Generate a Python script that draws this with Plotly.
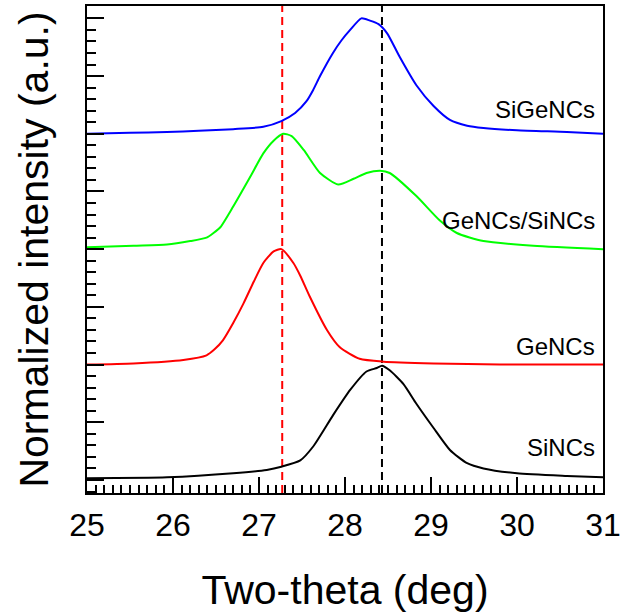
import plotly.graph_objects as go

# Two-theta positions (deg) and normalized intensities for each sample
sinc_x = [25.0, 25.93, 26.70, 27.09, 27.26, 27.48, 27.63, 27.86, 28.06, 28.25, 28.37,
          28.43, 28.52, 28.68, 28.83, 29.03, 29.22, 29.42, 29.61, 30.0, 30.58, 31.0]
sinc_y = [0.015, 0.023, 0.058, 0.087, 0.115, 0.17, 0.29, 0.56, 0.78, 0.94, 0.97,
          0.99, 0.95, 0.83, 0.66, 0.45, 0.26, 0.145, 0.10, 0.058, 0.035, 0.023]

genc_x = [25.0, 25.54, 26.12, 26.39, 26.48, 26.58, 26.70, 26.82, 26.94, 27.05, 27.17,
          27.26, 27.40, 27.48, 27.59, 27.79, 27.94, 28.17, 28.45, 29.03, 29.80, 31.0]
genc_y = [0.0, 0.01, 0.04, 0.08, 0.13, 0.21, 0.36, 0.53, 0.72, 0.88, 0.98,
          1.0, 0.88, 0.77, 0.59, 0.30, 0.15, 0.05, 0.025, 0.01, 0.0, 0.0]

mix_x = [25.0, 25.54, 25.93, 26.2, 26.39, 26.47, 26.55, 26.70, 26.90, 27.05, 27.17,
         27.28, 27.38, 27.52, 27.71, 27.92, 28.10, 28.25, 28.41, 28.52, 28.83, 29.10,
         29.30, 29.61, 30.19, 31.0]
mix_y = [0.016, 0.03, 0.04, 0.07, 0.10, 0.14, 0.19, 0.37, 0.63, 0.83, 0.94,
         1.0, 0.98, 0.86, 0.66, 0.56, 0.61, 0.66, 0.68, 0.66, 0.46, 0.25,
         0.14, 0.07, 0.03, 0.0]

sige_x = [25.0, 25.5, 25.93, 26.3, 26.7, 27.05, 27.26, 27.42, 27.55, 27.63, 27.71,
          27.86, 27.96, 28.06, 28.19, 28.29, 28.39, 28.49, 28.64, 28.83, 29.03, 29.22,
          29.42, 29.61, 30.0, 30.58, 31.0]
sige_y = [0.0, 0.008, 0.015, 0.025, 0.04, 0.06, 0.11, 0.18, 0.28, 0.38, 0.50,
          0.70, 0.81, 0.90, 1.0, 0.98, 0.95, 0.87, 0.66, 0.42, 0.24, 0.12,
          0.07, 0.05, 0.03, 0.015, 0.0]

sample_names = ["SiNCs", "GeNCs", "GeNCs/SiNCs", "SiGeNCs"]
sample_offsets = [0, 1, 2, 3]
sample_colors = ["#000000", "#ff0000", "#00ff00", "#0000ff"]
label_heights = [0.28, 1.16, 2.25, 3.21]

# Reference peak positions: Ge(111) and Si(111)
ref_peaks = [27.27, 28.43]
ref_colors = ["#ff0000", "#000000"]

series_x = [sinc_x, genc_x, mix_x, sige_x]
series_y = [sinc_y, genc_y, mix_y, sige_y]

FONT = "Liberation Sans, Arial, sans-serif"

fig = go.Figure()

for name, xs, ys, off, col in zip(sample_names, series_x, series_y, sample_offsets, sample_colors):
    fig.add_trace(go.Scatter(
        x=xs, y=[v + off for v in ys], mode="lines", name=name,
        line=dict(color=col, width=2, shape="spline", smoothing=0.6),
        showlegend=False,
    ))

for xp, col in zip(ref_peaks, ref_colors):
    fig.add_shape(type="line", xref="x", yref="paper", x0=xp, x1=xp, y0=0, y1=1,
                  line=dict(color=col, width=2, dash="8px,5px"), layer="below")

for name, yl in zip(sample_names, label_heights):
    fig.add_annotation(x=1, xref="paper", xshift=-6, xanchor="right",
                       y=yl, yref="y", yanchor="middle", text=name, showarrow=False,
                       font=dict(family=FONT, size=24, color="black"))

fig.update_layout(
    width=621, height=615,
    margin=dict(l=87, r=18, t=6, b=122, autoexpand=False),
    paper_bgcolor="white", plot_bgcolor="white",
    font=dict(family=FONT, color="black"),
    xaxis=dict(
        range=[25, 31], tick0=25, dtick=1, ticks="inside", ticklen=16, tickwidth=2,
        tickcolor="black", showline=True, linewidth=2, linecolor="black", mirror=True,
        showgrid=False, zeroline=False, tickfont=dict(size=32, family=FONT),
        ticklabelstandoff=3, automargin=False,
        minor=dict(dtick=0.1, ticks="inside", ticklen=8, tickwidth=2, tickcolor="black",
                   showgrid=False),
        title=dict(text="Two-theta (deg)", font=dict(size=41, family=FONT), standoff=33),
    ),
    yaxis=dict(
        range=[-0.113, 4.107], tick0=0, dtick=0.5, ticks="inside", ticklen=17, tickwidth=2,
        tickcolor="black", showline=True, linewidth=2, linecolor="black", mirror=True,
        showgrid=False, zeroline=False, showticklabels=False, automargin=False,
        minor=dict(dtick=0.1, ticks="inside", ticklen=9, tickwidth=2, tickcolor="black",
                   showgrid=False),
        title=dict(text="Normalized intensity (a.u.)", font=dict(size=41, family=FONT),
                   standoff=24),
    ),
)

fig.write_html("out.html")
